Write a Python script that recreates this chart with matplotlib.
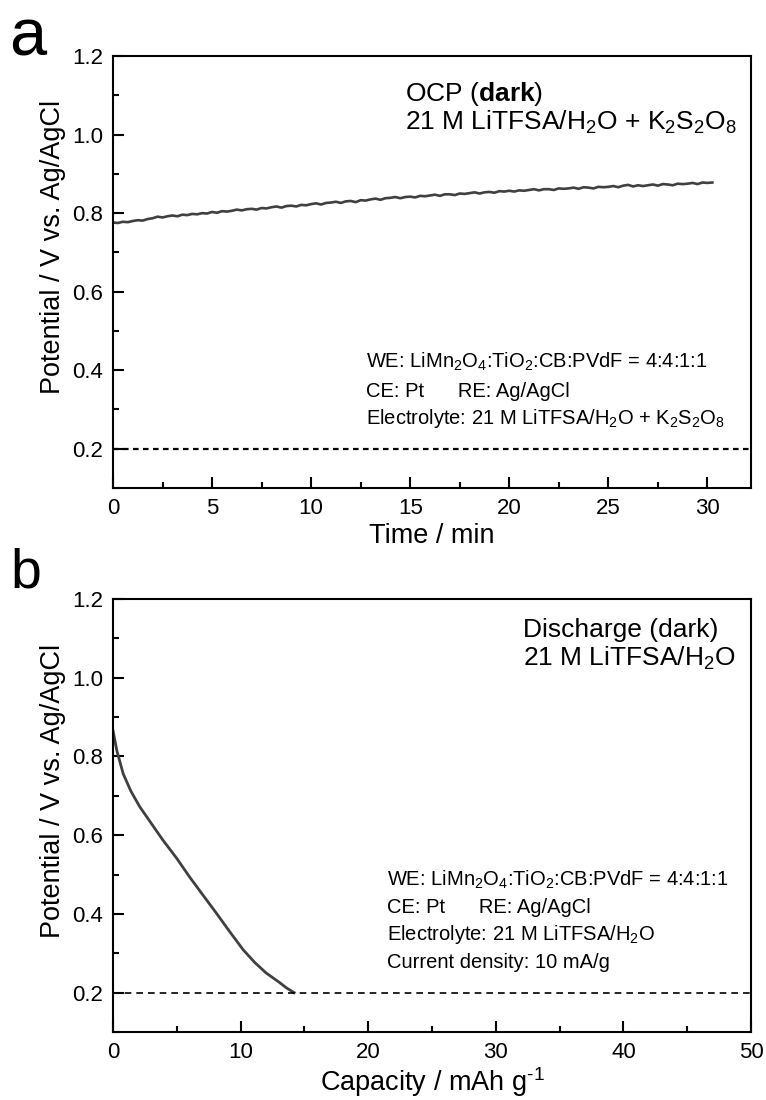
import matplotlib
matplotlib.use("Agg")
import matplotlib.pyplot as plt
from matplotlib.ticker import MultipleLocator
import numpy as np

plt.rcParams['font.family'] = ['Liberation Sans', 'DejaVu Sans']
plt.rcParams['mathtext.fontset'] = 'custom'
plt.rcParams['mathtext.rm'] = 'Liberation Sans'
plt.rcParams['mathtext.it'] = 'Liberation Sans:italic'
plt.rcParams['mathtext.bf'] = 'Liberation Sans:bold'

# ---- Data panel a (OCP vs time), sampled every 0.25 min ----
ocp_potential = [
    0.776, 0.775, 0.778, 0.777, 0.780, 0.782, 0.781, 0.785,
    0.787, 0.791, 0.789, 0.792, 0.794, 0.792, 0.796, 0.795,
    0.798, 0.797, 0.800, 0.799, 0.803, 0.801, 0.805, 0.804,
    0.806, 0.809, 0.807, 0.810, 0.811, 0.809, 0.813, 0.812,
    0.815, 0.817, 0.814, 0.818, 0.819, 0.817, 0.821, 0.820,
    0.823, 0.825, 0.822, 0.826, 0.827, 0.829, 0.826, 0.830,
    0.831, 0.828, 0.833, 0.832, 0.835, 0.837, 0.834, 0.838,
    0.839, 0.841, 0.838, 0.841, 0.842, 0.840, 0.844, 0.843,
    0.845, 0.847, 0.844, 0.848, 0.848, 0.846, 0.850, 0.849,
    0.851, 0.853, 0.850, 0.853, 0.854, 0.852, 0.856, 0.855,
    0.857, 0.855, 0.858, 0.857, 0.859, 0.861, 0.858, 0.861,
    0.861, 0.859, 0.863, 0.862, 0.863, 0.865, 0.862, 0.866,
    0.865, 0.863, 0.867, 0.866, 0.867, 0.869, 0.866, 0.870,
    0.872, 0.868, 0.871, 0.869, 0.871, 0.873, 0.870, 0.874,
    0.873, 0.871, 0.875, 0.874, 0.875, 0.877, 0.874, 0.878,
    0.877, 0.878]
sample_step_min = 0.25
ocp_time = np.arange(len(ocp_potential)) * sample_step_min

# ---- Data panel b (discharge) ----
capacity = [0.0, 0.3, 0.8, 1.4, 2.1, 3.0, 3.9, 5.0, 6.0, 7.0, 8.1, 9.1, 10.2, 11.1,
            12.0, 13.0, 13.6, 14.2]
discharge_potential = [0.866, 0.815, 0.756, 0.712, 0.672, 0.630, 0.588, 0.541, 0.494,
                       0.450, 0.402, 0.357, 0.309, 0.277, 0.250, 0.227, 0.212, 0.200]

cutoff = 0.2
y_ticks = [0.2, 0.4, 0.6, 0.8, 1.0, 1.2]

fig = plt.figure(figsize=(7.66, 11.0), dpi=100)
ax1 = fig.add_axes([0.1475, 0.5564, 0.9804 - 0.1475, 0.949 - 0.5564])
ax2 = fig.add_axes([0.1475, 0.0618, 0.9804 - 0.1475, 0.4555 - 0.0618])

line_color = '#404040'
TICK_FS = 16
LABEL_FS = 19.5
BIG_FS = 19
SMALL_FS = 14.5

for ax in (ax1, ax2):
    for sp in ax.spines.values():
        sp.set_linewidth(1.5)
    ax.tick_params(which='both', direction='in', top=False, right=False,
                   labelsize=TICK_FS, width=1.5)
    ax.tick_params(which='major', length=8, pad=7)
    ax.tick_params(which='minor', length=4.5)
    ax.yaxis.set_major_locator(MultipleLocator(0.2))
    ax.yaxis.set_minor_locator(MultipleLocator(0.1))
    ax.set_ylabel('Potential / V vs. Ag/AgCl', fontsize=LABEL_FS)
    ax.yaxis.set_label_coords(-0.073, 0.557)

# Panel a
ax1.plot(ocp_time, ocp_potential, color=line_color, lw=1.9)
ax1.axhline(cutoff, color='black', lw=1.6, ls=(0, (2.5, 2)))
ax1.set_xlim(0, 32.2)
ax1.set_ylim(0.1, 1.2)
ax1.set_yticks(y_ticks)
ax1.xaxis.set_major_locator(MultipleLocator(5))
ax1.xaxis.set_minor_locator(MultipleLocator(2.5))
ax1.set_xlabel('Time / min', fontsize=LABEL_FS, labelpad=3)
ax1.text(0.458, 0.896, r'OCP ($\mathbf{dark}$)', transform=ax1.transAxes,
         fontsize=BIG_FS, va='baseline', ha='left')
ax1.text(0.458, 0.829, r'21 M LiTFSA/H$_2$O + K$_2$S$_2$O$_8$', transform=ax1.transAxes,
         fontsize=BIG_FS, va='baseline', ha='left')
ax1.text(0.397, 0.278, r'WE: LiMn$_2$O$_4$:TiO$_2$:CB:PVdF = 4:4:1:1',
         transform=ax1.transAxes, fontsize=SMALL_FS, va='baseline', ha='left')
ax1.text(0.397, 0.211, 'CE: Pt      RE: Ag/AgCl',
         transform=ax1.transAxes, fontsize=SMALL_FS, va='baseline', ha='left')
ax1.text(0.397, 0.148, r'Electrolyte: 21 M LiTFSA/H$_2$O + K$_2$S$_2$O$_8$',
         transform=ax1.transAxes, fontsize=SMALL_FS, va='baseline', ha='left')

# Panel b
ax2.plot(capacity, discharge_potential, color=line_color, lw=2.0)
ax2.axhline(cutoff, color='black', lw=1.2, ls=(0, (4, 3)))
ax2.set_xlim(0, 50)
ax2.set_ylim(0.1, 1.2)
ax2.set_yticks(y_ticks)
ax2.xaxis.set_major_locator(MultipleLocator(10))
ax2.xaxis.set_minor_locator(MultipleLocator(5))
ax2.set_xlabel(r'Capacity / mAh g$^{\text{-}1}$', fontsize=LABEL_FS, labelpad=2)
ax2.text(0.643, 0.912, 'Discharge (dark)', transform=ax2.transAxes,
         fontsize=BIG_FS, va='baseline', ha='left')
ax2.text(0.643, 0.845, r'21 M LiTFSA/H$_2$O', transform=ax2.transAxes,
         fontsize=BIG_FS, va='baseline', ha='left')
ax2.text(0.4295, 0.339, r'WE: LiMn$_2$O$_4$:TiO$_2$:CB:PVdF = 4:4:1:1',
         transform=ax2.transAxes, fontsize=SMALL_FS, va='baseline', ha='left')
ax2.text(0.4295, 0.275, 'CE: Pt      RE: Ag/AgCl',
         transform=ax2.transAxes, fontsize=SMALL_FS, va='baseline', ha='left')
ax2.text(0.4295, 0.212, r'Electrolyte: 21 M LiTFSA/H$_2$O',
         transform=ax2.transAxes, fontsize=SMALL_FS, va='baseline', ha='left')
ax2.text(0.4295, 0.148, 'Current density: 10 mA/g',
         transform=ax2.transAxes, fontsize=SMALL_FS, va='baseline', ha='left')

fig.text(0.012, 1 - 8 / 1100, 'a', fontsize=48, va='top', ha='left')
fig.text(0.014, 1 - 548 / 1100, 'b', fontsize=40, va='top', ha='left')

fig.savefig('out.png', dpi=100)
